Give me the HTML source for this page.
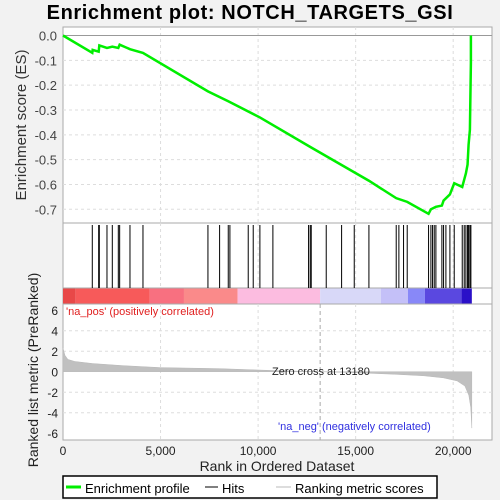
<!DOCTYPE html>
<html><head><meta charset="utf-8"><style>
body{margin:0;background:#f2f2f2;}
svg{display:block;font-family:"Liberation Sans","DejaVu Sans",sans-serif;}
</style></head><body>
<svg id="c" width="500" height="500">
<rect x="0" y="0" width="500" height="500" fill="#f2f2f2"/>
<text x="250" y="19" text-anchor="middle" font-size="20" font-weight="bold" letter-spacing="0.6" fill="#000">Enrichment plot: NOTCH_TARGETS_GSI</text>
<g id="topg"></g><g id="hitsg"></g><g id="botg"></g>
<g>
<rect x="63" y="476" width="374" height="22" fill="#fff" stroke="#000" stroke-width="1.5"/>
<line x1="66" y1="487" x2="81" y2="487" stroke="#00ee00" stroke-width="3"/>
<text x="85" y="493" font-size="13">Enrichment profile</text>
<line x1="205" y1="487" x2="218" y2="487" stroke="#000" stroke-width="1"/>
<text x="222" y="493" font-size="13">Hits</text>
<line x1="276" y1="487" x2="291" y2="487" stroke="#bbb" stroke-width="1"/>
<text x="295" y="493" font-size="13">Ranking metric scores</text>
</g>
</svg>
<script>
const N = 20955;
const hitRanks = [1501,1828,1862,2254,2527,2835,2904,3433,4099,7429,8027,8470,8555,9494,9750,10092,10758,12587,12672,12723,13492,14280,14928,15680,17079,17216,17455,17643,18737,18857,18942,19028,19113,19420,19506,19626,19831,20053,20463,20565,20651,20736,20788,20856,20907];
const esRanks = [0,1501,1520,1828,1862,2254,2527,2835,2904,3433,4099,7429,8470,10092,12700,15680,17079,17643,18737,18857,19113,19420,19506,19831,20053,20463,20565,20651,20736,20788,20856,20907,20907];
const esValues = [0,-0.07,-0.058,-0.065,-0.04,-0.05,-0.045,-0.05,-0.037,-0.055,-0.07,-0.225,-0.265,-0.33,-0.45,-0.585,-0.655,-0.67,-0.718,-0.7,-0.69,-0.685,-0.665,-0.64,-0.595,-0.61,-0.58,-0.555,-0.52,-0.44,-0.38,-0.11,0.0];
const metricRanks = [0,100,250,600,1500,3000,5000,8000,11000,13180,15000,17000,18500,19500,20200,20600,20800,20900,20955];
const metricValues = [2.3,1.6,1.2,1.0,0.8,0.6,0.4,0.3,0.1,0,-0.1,-0.25,-0.4,-0.6,-0.9,-1.4,-2.3,-3.5,-5.5];
const xTicks = [0,5000,10000,15000,20000];
const xTickLabels = ["0","5,000","10,000","15,000","20,000"];
const esTicks = [0,-0.1,-0.2,-0.3,-0.4,-0.5,-0.6,-0.7];
const esTickLabels = ["0.0","-0.1","-0.2","-0.3","-0.4","-0.5","-0.6","-0.7"];
const mTicks = [6,4,2,0,-2,-4,-6];
const zeroCross = 13180;
const bandEnds = [650,4450,6200,8950,13180,16300,17680,18550,20430,20955];
const bandColors = ["#e84848","#f75a5a","#f87080","#fa8a8a","#fcbce0","#d8d8f8","#c4c0f8","#8888f8","#5a48e0","#2a10c8"];

const NS="http://www.w3.org/2000/svg";
const L=63,R=492;
const x=r=>L+r*(97.55/5000);
const yE=v=>35.5-v*248.3;
const yM=v=>371.7-v*10.25;
function mk(p,t,a){const e=document.createElementNS(NS,t);for(const k in a)e.setAttribute(k,a[k]);p.appendChild(e);return e;}
const topG=document.getElementById('topg'),hitsG=document.getElementById('hitsg'),botG=document.getElementById('botg');

let r=mk(topG,'rect',{x:L,y:27,width:R-L,height:196,fill:'#fff',stroke:'#aaa'});


esTicks.forEach((v,i)=>{
 if(v!==0){const g=mk(topG,'line',{x1:L,x2:R,y1:yE(v),y2:yE(v),stroke:'#ddd','stroke-dasharray':'3,3'});
 
 }
 const t=mk(topG,'text',{x:57,y:yE(v)+5,'text-anchor':'end','font-size':'13',fill:'#444'});t.textContent=esTickLabels[i];
 
 
});
xTicks.forEach(v=>{if(v>0){[[27,223],[223,288]].forEach(s=>{const g=mk(topG,'line',{x1:x(v),x2:x(v),y1:s[0],y2:s[1],stroke:'#ddd','stroke-dasharray':'3,3'});
 
 });}});
let z=mk(topG,'line',{x1:L,x2:R,y1:yE(0),y2:yE(0),stroke:'#999'});


let yl=mk(topG,'text',{x:0,y:0,transform:'translate(26,125) rotate(-90)','text-anchor':'middle','font-size':'15',fill:'#333'});
yl.textContent='Enrichment score (ES)';


let pts=esRanks.map((rk,i)=>x(rk)+','+yE(esValues[i])).join(' ');
let es=mk(topG,'polyline',{points:pts,fill:'none',stroke:'#00ee00','stroke-width':2.5});



let hr=mk(hitsG,'rect',{x:L,y:223,width:R-L,height:81,fill:'#fff',stroke:'#aaa'});


xTicks.forEach(v=>{if(v>0){const g=mk(hitsG,'line',{x1:x(v),x2:x(v),y1:223,y2:288,stroke:'#ddd','stroke-dasharray':'3,3'});
 
 }});
let prev=0;
bandEnds.forEach((e,i)=>{const b=mk(hitsG,'rect',{x:x(prev),y:288,width:x(e)-x(prev),height:16,fill:bandColors[i]});
 
 prev=e;});
mk(hitsG,'line',{x1:L,x2:R,y1:288,y2:288,stroke:'#aaa'});
hitRanks.forEach(h=>{const l=mk(hitsG,'line',{x1:x(h),x2:x(h),y1:225,y2:288,stroke:'#000','stroke-width':1});
 
 });

let br=mk(botG,'rect',{x:L,y:304,width:R-L,height:136,fill:'#fff',stroke:'#aaa'});


mTicks.forEach(v=>{if(v!==0&&v!==-6&&v!==6){const g=mk(botG,'line',{x1:L,x2:R,y1:yM(v),y2:yM(v),stroke:'#ddd','stroke-dasharray':'3,3'});
 
 }
 const t=mk(botG,'text',{x:58,y:yM(v)+5,'text-anchor':'end','font-size':'12',fill:'#222'});t.textContent=String(v);
 
 });
xTicks.forEach(v=>{if(v>0){const g=mk(botG,'line',{x1:x(v),x2:x(v),y1:304,y2:440,stroke:'#ddd','stroke-dasharray':'3,3'});
 
 }});
let ap='M'+x(0)+','+yM(0);
metricRanks.forEach((rk,i)=>ap+=' L'+x(rk)+','+yM(metricValues[i]));
ap+=' L'+x(N)+','+yM(0)+' Z';
let area=mk(botG,'path',{d:ap,fill:'#c0c0c0',stroke:'#b8b8b8','stroke-width':0.5});


let zc=mk(botG,'line',{x1:x(zeroCross),x2:x(zeroCross),y1:304,y2:440,stroke:'#aaa','stroke-dasharray':'4,3'});


let zt=mk(botG,'text',{x:272,y:375,'font-size':'11',fill:'#222'});zt.textContent='Zero cross at '+zeroCross;


let pl=mk(botG,'text',{x:66,y:315,'font-size':'11',fill:'#e02020'});pl.textContent="'na_pos' (positively correlated)";


let nl=mk(botG,'text',{x:278,y:430,'font-size':'11',fill:'#3030e0'});nl.textContent="'na_neg' (negatively correlated)";


xTicks.forEach((v,i)=>{const t=mk(botG,'text',{x:x(v),y:455,'text-anchor':'middle','font-size':'12',fill:'#222'});t.textContent=xTickLabels[i];
 
 });
let xl=mk(botG,'text',{x:277,y:471,'text-anchor':'middle','font-size':'14',fill:'#222'});xl.textContent='Rank in Ordered Dataset';


let ml=mk(botG,'text',{x:0,y:0,transform:'translate(38,370) rotate(-90)','text-anchor':'middle','font-size':'14',fill:'#222'});ml.textContent='Ranked list metric (PreRanked)';


</script>
</body></html>
